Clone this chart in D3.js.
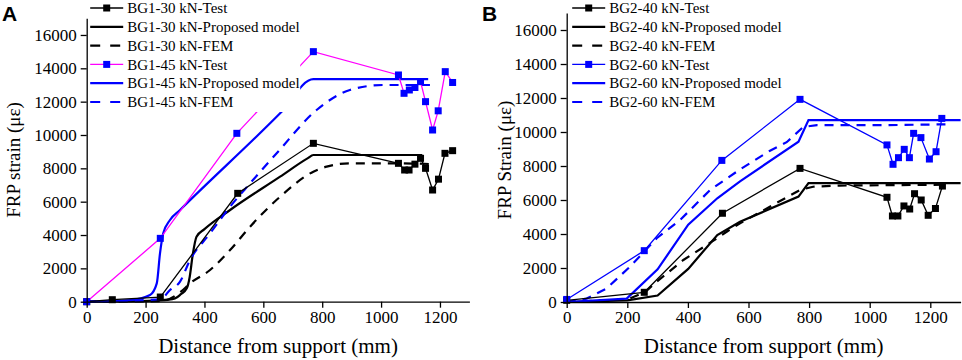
<!DOCTYPE html>
<html>
<head>
<meta charset="utf-8">
<script src="https://cdn.jsdelivr.net/npm/d3@7"></script>
<style>
body { margin: 0; background: #fff; }
svg { display: block; font-family: "Liberation Serif", "Times New Roman", serif; }
</style>
</head>
<body>
<div id="chart"></div>
<script>
// shared ticks
const distTicks = [0, 200, 400, 600, 800, 1000, 1200];
const strainTicks = [0, 2000, 4000, 6000, 8000, 10000, 12000, 14000, 16000];

// panel A (BG1), distance in mm, strain in microstrain
const bg1_30TestX = [0, 87, 250, 513, 770, 1059, 1080, 1095, 1115, 1134, 1151, 1175, 1195, 1217, 1243];
const bg1_30TestY = [0, 120, 280, 6500, 9500, 8300, 7900, 7900, 8250, 8600, 8000, 6700, 7350, 8900, 9060];
const bg1_30ModelX = [0, 150, 250, 300, 320, 340, 350, 360, 373, 400, 487, 657, 750, 770, 1140];
const bg1_30ModelY = [0, 20, 80, 200, 450, 800, 1500, 2800, 3900, 4350, 5500, 7500, 8600, 8800, 8800];
const bg1_30FemX = [0, 250, 320, 351, 419, 487, 555, 657, 770, 815, 894, 1053, 1180];
const bg1_30FemY = [0, 30, 600, 1100, 1900, 3100, 4500, 6300, 7800, 8100, 8300, 8300, 8250];
const bg1_45TestX = [0, 250, 510, 770, 1059, 1078, 1096, 1115, 1134, 1151, 1175, 1194, 1218, 1243];
const bg1_45TestY = [0, 3800, 10100, 15000, 13600, 12500, 12700, 12850, 13200, 12000, 10300, 11450, 13800, 13150];
const bg1_45ModelX = [0, 150, 215, 238, 249, 260, 283, 317, 657, 770, 1160];
const bg1_45ModelY = [0, 100, 400, 1100, 2900, 4100, 4900, 5500, 11300, 13350, 13350];
const bg1_45FemX = [0, 250, 283, 317, 351, 419, 487, 555, 650, 781, 894, 1007, 1166];
const bg1_45FemY = [0, 150, 700, 1200, 2500, 4100, 5700, 7100, 9000, 11500, 12700, 13000, 13000];

// panel B (BG2)
const bg2_40TestX = [0, 256, 514, 770, 1057, 1075, 1093, 1113, 1132, 1148, 1170, 1193, 1217, 1240];
const bg2_40TestY = [100, 570, 5220, 7860, 6160, 5060, 5060, 5650, 5470, 6370, 6000, 5100, 5500, 6820];
const bg2_40ModelX = [0, 200, 300, 401, 497, 572, 765, 798, 1300];
const bg2_40ModelY = [0, 100, 380, 1950, 3940, 4720, 6200, 6990, 6990];
const bg2_40FemX = [0, 200, 260, 297, 385, 462, 528, 572, 770, 813, 900, 1250];
const bg2_40FemY = [0, 150, 600, 1190, 2470, 3350, 4130, 4630, 6590, 6780, 6850, 6900];
const bg2_60TestX = [0, 256, 512, 770, 1057, 1077, 1095, 1114, 1131, 1145, 1169, 1197, 1219, 1238];
const bg2_60TestY = [150, 3020, 8330, 11920, 9240, 8100, 8490, 8980, 8490, 9920, 9670, 8410, 8840, 10800];
const bg2_60ModelX = [0, 198, 300, 401, 497, 572, 765, 798, 1300];
const bg2_60ModelY = [0, 200, 1920, 4550, 6100, 7100, 9430, 10700, 10700];
const bg2_60FemX = [0, 66, 132, 209, 297, 374, 474, 572, 671, 726, 781, 826, 1035, 1250];
const bg2_60FemY = [0, 200, 800, 2080, 3750, 4820, 6600, 7800, 8900, 9400, 10300, 10400, 10400, 10450];

const legendA = ["BG1-30 kN-Test", "BG1-30 kN-Proposed model", "BG1-30 kN-FEM",
                 "BG1-45 kN-Test", "BG1-45 kN-Proposed model", "BG1-45 kN-FEM"];
const legendB = ["BG2-40 kN-Test", "BG2-40 kN-Proposed model", "BG2-40 kN-FEM",
                 "BG2-60 kN-Test", "BG2-60 kN-Proposed model", "BG2-60 kN-FEM"];

const width = 962, height = 360;
const blue = "#0000ff", magenta = "#ff00ff";
const serif = "'Liberation Serif', 'Times New Roman', serif";

const svg = d3.select("#chart")
    .append("svg")
    .attr("width", width)
    .attr("height", height)
    .attr("viewBox", [0, 0, width, height]);

// zip x and y arrays into points
const pts = (xs, ys) => xs.map((x, i) => [x, ys[i]]);

function drawPanel(p) {
    const x = d3.scaleLinear().domain([0, 1300]).range([p.left, p.right]);
    const y = d3.scaleLinear().domain([0, 17000]).range([p.bottom, p.top]);

    const g = svg.append("g");

    // lines, models and fem first, tests on top
    const line = d3.line().x(d => x(d[0])).y(d => y(d[1]));
    const smooth = d3.line().x(d => x(d[0])).y(d => y(d[1])).curve(p.curve);

    const drawOrder = p.series.slice().sort((a, b) => (a.kind == "test") - (b.kind == "test"));
    drawOrder.forEach(s => {
        const data = pts(s.x, s.y);
        const gen = s.kind == "test" ? line : smooth;
        g.append("path")
            .datum(data)
            .attr("fill", "none")
            .attr("stroke", s.lineColor)
            .attr("stroke-width", s.kind == "test" ? 1.3 : 2.2)
            .attr("stroke-dasharray", s.kind == "fem" ? "9,7" : null)
            .attr("d", gen);
        if (s.kind == "test") {
            g.selectAll(null)
                .data(data)
                .join("rect")
                .attr("x", d => x(d[0]) - 3.5)
                .attr("y", d => y(d[1]) - 3.5)
                .attr("width", 7)
                .attr("height", 7)
                .attr("fill", s.markColor);
        }
    });

    // legend, panel A has a white box that hides the lines behind it
    const lg = svg.append("g");
    if (p.legendW > 0) {
        lg.append("rect")
            .attr("x", p.left + 1.5).attr("y", 0)
            .attr("width", p.legendW).attr("height", 112)
            .attr("fill", "#fff");
    }
    p.series.forEach((s, i) => {
        const ly = 8 + i * 18.8;
        lg.append("line")
            .attr("x1", p.left + p.legendX0).attr("x2", p.left + p.legendX0 + 33)
            .attr("y1", ly).attr("y2", ly)
            .attr("stroke", s.lineColor)
            .attr("stroke-width", s.kind == "test" ? 1.3 : 2.2)
            .attr("stroke-dasharray", s.kind == "fem" ? "10,10" : null);
        if (s.kind == "test") {
            lg.append("rect")
                .attr("x", p.left + p.legendX0 + 13).attr("y", ly - 3.5)
                .attr("width", 7).attr("height", 7)
                .attr("fill", s.markColor);
        }
        lg.append("text")
            .attr("x", p.left + p.legendX0 + 37)
            .attr("y", ly)
            .attr("dy", "0.35em")
            .attr("font-size", 15)
            .style("font-family", serif)
            .text(p.legend[i]);
    });

    // axes
    const xAxis = svg.append("g")
        .attr("transform", `translate(0, ${p.bottom})`)
        .call(d3.axisBottom(x).tickValues(distTicks).tickFormat(d3.format("d"))
            .tickSize(6).tickSizeOuter(0).tickPadding(3));
    const yAxis = svg.append("g")
        .attr("transform", `translate(${p.left}, 0)`)
        .call(d3.axisLeft(y).tickValues(strainTicks).tickFormat(d3.format("d"))
            .tickSize(6).tickSizeOuter(0).tickPadding(4));
    [xAxis, yAxis].forEach(a => {
        a.attr("font-family", null).attr("font-size", null);
        a.selectAll("path, line").attr("stroke", "#000").attr("stroke-width", 1.3);
        a.selectAll("text")
            .style("font-family", serif)
            .style("font-size", "17px")
            .attr("fill", "#000");
    });

    // titles
    svg.append("text")
        .attr("x", (p.left + p.right) / 2)
        .attr("y", 353)
        .attr("text-anchor", "middle")
        .attr("font-size", 21)
        .style("font-family", serif)
        .text("Distance from support (mm)");
    svg.append("text")
        .attr("transform", `translate(${p.yTitleX}, 160) rotate(-90)`)
        .attr("text-anchor", "middle")
        .attr("font-size", 19)
        .style("font-family", serif)
        .text(p.yTitle);
    svg.append("text")
        .attr("x", p.tagX).attr("y", 21)
        .style("font-family", "'Liberation Sans', Arial, sans-serif")
        .attr("font-weight", "bold")
        .attr("font-size", 21)
        .text(p.tag);
}

drawPanel({
    tag: "A", tagX: 2,
    left: 86.7, right: 469.4, top: 18.3, bottom: 301.7,
    yTitle: "FRP strain (με)", yTitleX: 20,
    legend: legendA, legendX0: 3.5, legendW: 212,
    curve: d3.curveMonotoneX,
    series: [
        {x: bg1_30TestX, y: bg1_30TestY, kind: "test", lineColor: "#000", markColor: "#000"},
        {x: bg1_30ModelX, y: bg1_30ModelY, kind: "model", lineColor: "#000"},
        {x: bg1_30FemX, y: bg1_30FemY, kind: "fem", lineColor: "#000"},
        {x: bg1_45TestX, y: bg1_45TestY, kind: "test", lineColor: magenta, markColor: blue},
        {x: bg1_45ModelX, y: bg1_45ModelY, kind: "model", lineColor: blue},
        {x: bg1_45FemX, y: bg1_45FemY, kind: "fem", lineColor: blue}
    ]
});

drawPanel({
    tag: "B", tagX: 482,
    left: 566.7, right: 960.6, top: 13, bottom: 302,
    yTitle: "FRP Strain (με)", yTitleX: 511,
    legend: legendB, legendX0: 5.5, legendW: 0,
    curve: d3.curveLinear,
    series: [
        {x: bg2_40TestX, y: bg2_40TestY, kind: "test", lineColor: "#000", markColor: "#000"},
        {x: bg2_40ModelX, y: bg2_40ModelY, kind: "model", lineColor: "#000"},
        {x: bg2_40FemX, y: bg2_40FemY, kind: "fem", lineColor: "#000"},
        {x: bg2_60TestX, y: bg2_60TestY, kind: "test", lineColor: blue, markColor: blue},
        {x: bg2_60ModelX, y: bg2_60ModelY, kind: "model", lineColor: blue},
        {x: bg2_60FemX, y: bg2_60FemY, kind: "fem", lineColor: blue}
    ]
});
</script>
</body>
</html>
